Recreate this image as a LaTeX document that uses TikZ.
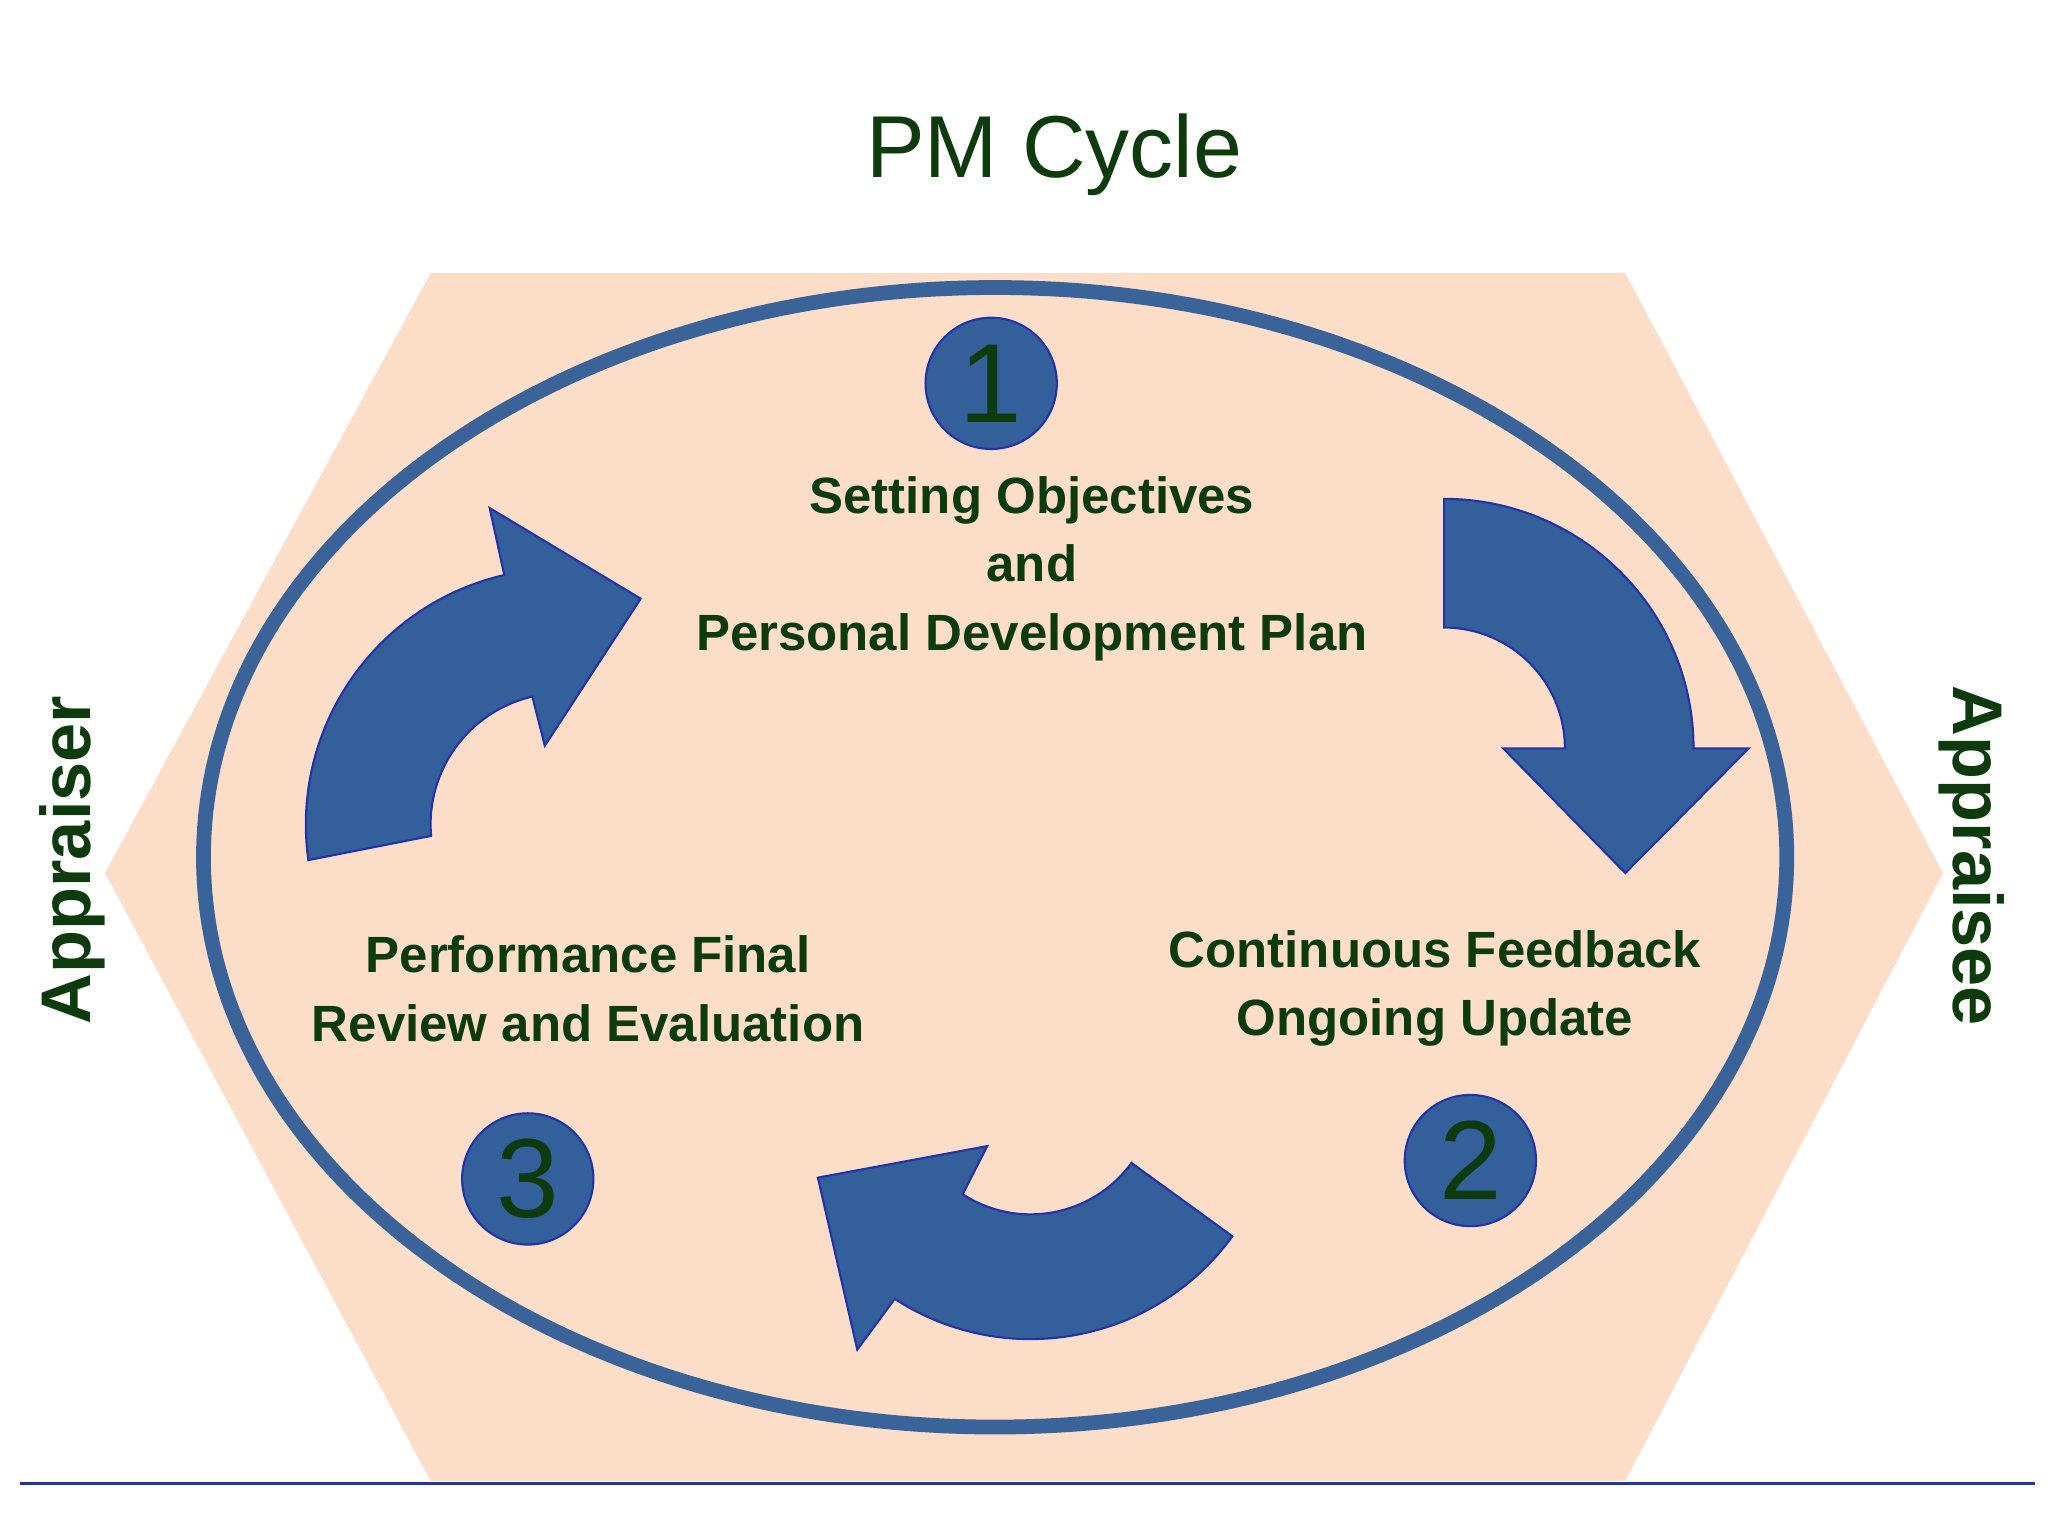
\documentclass[tikz,border=0pt]{standalone}
\usepackage{fontspec}
\usetikzlibrary{calc}
\setmainfont{Liberation Sans}
\definecolor{peach}{HTML}{FCDEC8}
\definecolor{steel}{HTML}{3A6399}
\definecolor{arrowfill}{HTML}{33609A}
\definecolor{edgeblue}{HTML}{2233AA}
\definecolor{dgreen}{HTML}{0D3B0D}
\begin{document}
\begin{tikzpicture}[x=0.013128cm,y=-0.013128cm,
  lbl/.style={text=dgreen,font=\fontsize{14.5}{19.5}\selectfont\bfseries,align=center},
  num/.style={circle,fill=arrowfill,draw=edgeblue,line width=0.6pt,minimum size=100*0.013128cm,inner sep=0pt,text=dgreen,font=\fontsize{32}{32}\selectfont},
  barrow/.style={fill=arrowfill,draw=edgeblue,line width=0.6pt},
  side/.style={text=dgreen,font=\fontsize{20}{20}\selectfont\bfseries}]
\useasboundingbox (0,0) rectangle (1560,1170);
\fill[white] (0,0) rectangle (1560,1170);
\node[text=dgreen,font=\fontsize{25}{25}\selectfont] (title) at (803,118) {PM Cycle};
\fill[peach] (328,208) -- (1238,208) -- (1480,665) -- (1238,1128) -- (328,1128) -- (80,665) -- cycle;
\draw[steel,line width=4.2pt] (758,653) ellipse [x radius=603,y radius=434];
\node[num] (n1) at (755,292) {1};
\node[num] (n2) at (1120,884) {2};
\node[num] (n3) at (402,898) {3};
\node[lbl] (t1) at (786,433) {Setting Objectives\\and\\Personal Development Plan};
\node[lbl] (t3) at (448,753) {Performance Final\\Review and Evaluation};
\node[lbl] (t2) at (1093,753) {Continuous Feedback\\Ongoing Update};
\node[side,rotate=90] (ar) at (55,655) {Appraiser};
\node[side,rotate=-90] (ae) at (1502,652) {Appraisee};
% right arrow
\draw[barrow] (1100,380) arc[start angle=-90,end angle=0,radius=190] -- (1332,570) -- (1238,665) -- (1145,570) -- (1192,570) arc[start angle=0,end angle=-90,radius=92] -- cycle;
% bottom arrow
\draw[barrow] ($(785,830)+(36:190)$) arc[start angle=36,end angle=123,radius=190] -- (653,1028) -- (623,897) -- (752,873) -- ($(785,830)+(123:95)$) arc[start angle=123,end angle=36,radius=95] -- cycle;
% left arrow
\draw[barrow] ($(428,628)+(172:195)$) arc[start angle=172,end angle=257,radius=195] -- (373,387) -- (488,456) -- (415,568) -- ($(428,628)+(257:100)$) arc[start angle=257,end angle=175,radius=100] -- cycle;
\coordinate (l1) at (15,1130);
\coordinate (l2) at (1550,1130);
\draw[edgeblue,line width=0.8pt] (l1) -- (l2);
\end{tikzpicture}
\end{document}
